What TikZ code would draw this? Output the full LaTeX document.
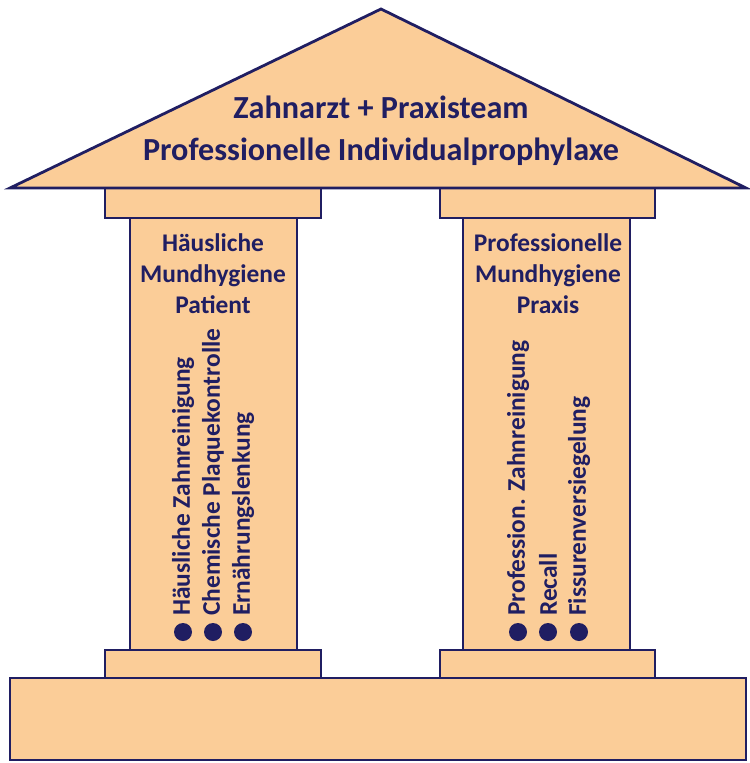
\documentclass[tikz,border=0pt]{standalone}
\usepackage{fontspec}
\setmainfont{Carlito}
\definecolor{peach}{RGB}{251,205,152}
\definecolor{navy}{RGB}{32,30,98}
\begin{document}
\begin{tikzpicture}[x=1bp,y=-1bp,
  part/.style={fill=peach,draw=navy,line width=2.8bp,line join=miter},
  lbl/.style={text=navy,font=\bfseries\fontsize{25.5}{31}\selectfont,align=center,inner sep=0},
  vlbl/.style={text=navy,font=\bfseries\fontsize{25.5}{30}\selectfont,inner sep=0,rotate=90,anchor=west},
  bul/.style={circle,fill=navy,minimum size=18bp,inner sep=0}]
\useasboundingbox (0,0) rectangle (750,763);
% base
\draw[part] (10,678) rectangle (746,760);
% bases of columns
\draw[part] (105,650) rectangle (321,678);
\draw[part] (440,650) rectangle (655,678);
% shafts
\draw[part] (130,218) rectangle (297,650);
\draw[part] (463,218) rectangle (630,650);
% capitals
\draw[part] (105,188) rectangle (321,218);
\draw[part] (440,188) rectangle (655,218);
% roof
\draw[part] (381,9) -- (746,188) -- (10,188) -- cycle;
\node[lbl,font=\bfseries\fontsize{32.3}{42}\selectfont] (roof) at (381,131) {Zahnarzt + Praxisteam\\Professionelle Individualprophylaxe};
\node[lbl] (lhead) at (213,274) {Häusliche\\Mundhygiene\\Patient};
\node[lbl] (rhead) at (548,274) {Professionelle\\Mundhygiene\\Praxis};
% bullets
\node[bul] (b1) at (183,632) {};
\node[bul] (b2) at (213,632) {};
\node[bul] (b3) at (243,632) {};
\node[bul] (b4) at (518,632) {};
\node[bul] (b5) at (548,632) {};
\node[bul] (b6) at (579,632) {};
\node[vlbl] (t1) at (183,616) {Häusliche Zahnreinigung};
\node[vlbl] (t2) at (213,616) {Chemische Plaquekontrolle};
\node[vlbl] (t3) at (243,616) {Ernährungslenkung};
\node[vlbl] (t4) at (518,616) {Profession. Zahnreinigung};
\node[vlbl] (t5) at (548,616) {Recall};
\node[vlbl] (t6) at (579,616) {Fissurenversiegelung};
\end{tikzpicture}
\end{document}
